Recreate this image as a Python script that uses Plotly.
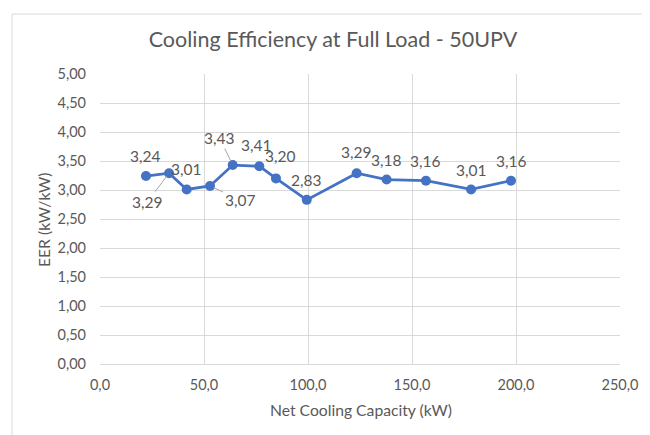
import plotly.graph_objects as go

capacity_kw = [22.1, 33.2, 41.7, 52.9, 63.8, 76.6, 84.6, 99.4, 123.4, 137.8, 156.7, 178.4, 197.6]
eer = [3.24, 3.29, 3.01, 3.07, 3.43, 3.41, 3.20, 2.83, 3.29, 3.18, 3.16, 3.01, 3.16]
labels = ["3,24", "3,29", "3,01", "3,07", "3,43", "3,41", "3,20", "2,83", "3,29", "3,18", "3,16", "3,01", "3,16"]
# label offsets in pixels (style) and whether a leader line is drawn
offsets = [(0, -20), (-22, 29), (0, -20), (30, 14), (-13, -27), (-3, -21), (5, -22),
           (0, -20), (0, -21), (0, -20), (0, -20), (0, -19), (0, -20)]
leaders = [False, True, False, True, True, False, False, False, False, False, False, False, False]

FONT = "Lato"
GREY = "#595959"
BLUE = "#4472C4"

# page has an 8px body margin, so the figure is sized to fit the 650x435 window
W, H = 642, 427
L, T, PW, PH = 92, 66, 520, 290

fig = go.Figure()
fig.add_trace(go.Scatter(
    x=capacity_kw, y=eer, mode="lines+markers",
    line=dict(color=BLUE, width=2.75),
    marker=dict(color=BLUE, size=10),
    showlegend=False, hoverinfo="skip",
))

annotations = []
for xv, yv, txt, (dx, dy), ld in zip(capacity_kw, eer, labels, offsets, leaders):
    annotations.append(dict(
        x=xv, y=yv, xref="x", yref="y", text=txt,
        showarrow=True, ax=dx, ay=dy, axref="pixel", ayref="pixel",
        arrowhead=0, arrowwidth=1,
        arrowcolor="#a6a6a6" if ld else "rgba(0,0,0,0)",
        standoff=4 if ld else 0, startstandoff=0,
        font=dict(family=FONT, size=15.5, color=GREY),
    ))

# axis titles
annotations.append(dict(
    text="Net Cooling Capacity (kW)", xref="paper", yref="paper",
    x=(352.7 - L) / PW, y=-(402 - (T + PH)) / PH, xanchor="center", yanchor="middle",
    showarrow=False, font=dict(family=FONT, size=15.7, color=GREY)))
annotations.append(dict(
    text="EER (kW/kW)", xref="paper", yref="paper", textangle=-90,
    x=(36 - L) / PW, y=((T + PH) - 212) / PH, xanchor="center", yanchor="middle",
    showarrow=False, font=dict(family=FONT, size=15.7, color=GREY)))

bx0 = (4 - L) / PW
by1 = (T + PH - 6) / PH
border = dict(color="#d9d9d9", width=1)

fig.update_layout(
    width=W, height=H,
    margin=dict(l=L, r=W - L - PW, t=T, b=H - T - PH, autoexpand=False),
    paper_bgcolor="white", plot_bgcolor="white",
    separators=", ",
    font=dict(family=FONT, color=GREY, size=14.5),
    title=dict(text="Cooling Efficiency at Full Load - 50UPV",
               x=325 / W, xanchor="center", y=0.927, yanchor="middle",
               font=dict(family=FONT, size=21.5, color=GREY)),
    annotations=annotations,
    shapes=[
        dict(type="line", xref="paper", yref="paper", x0=bx0, x1=(W - L) / PW, y0=by1, y1=by1,
             line=border, layer="below"),
        dict(type="line", xref="paper", yref="paper", x0=bx0, x1=bx0, y0=by1, y1=-(H - T - PH) / PH,
             line=border, layer="below"),
    ],
)
fig.update_xaxes(
    range=[0, 250], dtick=50, tick0=0, tickformat=".1f",
    showgrid=True, gridcolor="#d9d9d9", gridwidth=1,
    showline=True, linecolor="#d9d9d9", linewidth=1,
    zeroline=False, ticks="", ticklen=0, ticklabelstandoff=8, automargin=False,
    tickfont=dict(family=FONT, size=14.5, color=GREY),
)
fig.update_yaxes(
    range=[0, 5], dtick=0.5, tick0=0, tickformat=".2f",
    showgrid=True, gridcolor="#d9d9d9", gridwidth=1,
    showline=False, zeroline=False, ticks="", ticklen=0, ticklabelstandoff=13, automargin=False,
    tickfont=dict(family=FONT, size=14.5, color=GREY),
)

fig.write_html("out.html")
